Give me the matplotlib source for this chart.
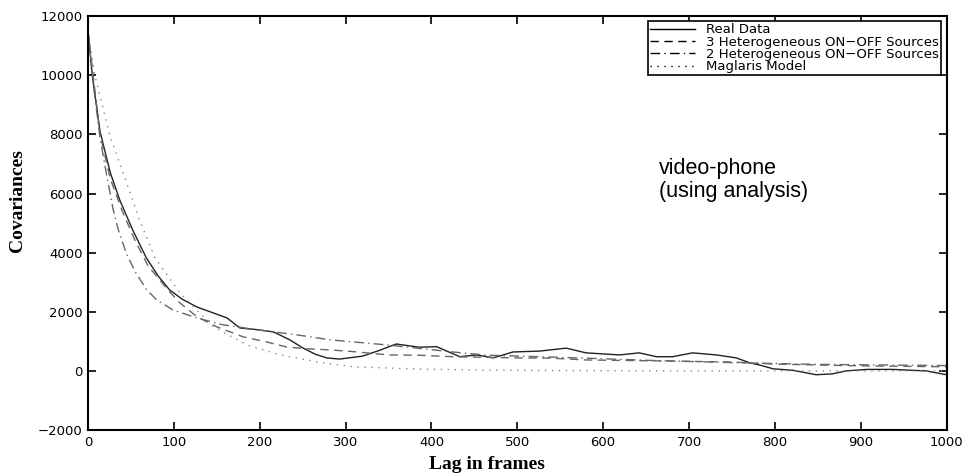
import matplotlib
matplotlib.use('Agg')
import matplotlib.pyplot as plt

# real data (solid)
real_lag = [0, 5, 14, 26, 37, 52, 68, 82, 95, 110, 127, 146, 162, 177, 195, 216, 235,
            250, 265, 278, 293, 320, 340, 359, 386, 406, 433, 453, 472, 495, 526, 557,
            580, 619, 642, 662, 681, 704, 732, 755, 771, 782, 798, 821, 848, 867, 883,
            907, 937, 976, 1000]
real_cov = [11500, 10000, 8100, 6700, 5780, 4770, 3820, 3200, 2740, 2420, 2160, 1960,
            1790, 1450, 1400, 1320, 1050, 780, 560, 440, 400, 500, 700, 910, 800, 820,
            480, 540, 440, 640, 670, 770, 610, 540, 610, 480, 480, 610, 540, 440, 270,
            200, 70, 20, -130, -100, 0, 50, 50, 0, -130]

# 3 heterogeneous ON-OFF sources (dashed)
het3_lag = [0, 14, 26, 40, 55, 70, 93, 107, 127, 150, 181, 208, 231, 254, 282, 310,
            350, 385, 425, 500, 540, 580, 660, 750, 800, 900, 1000]
het3_cov = [11500, 8000, 6500, 5400, 4400, 3550, 2740, 2300, 1830, 1490, 1150, 980,
            810, 750, 710, 650, 540, 530, 480, 440, 430, 370, 340, 300, 230, 170, 140]

# 2 heterogeneous ON-OFF sources (dash-dot)
het2_lag = [0, 7, 14, 20, 29, 35, 45, 55, 68, 80, 99, 127, 157, 200, 243, 282, 348,
            425, 465, 503, 580, 660, 750, 850, 1000]
het2_cov = [11500, 9500, 7900, 6900, 5500, 4800, 3950, 3350, 2760, 2400, 2060, 1790,
            1560, 1380, 1220, 1050, 880, 640, 530, 500, 430, 350, 280, 220, 180]

# Maglaris model (dotted)
mag_lag = [0, 8, 26, 41, 60, 78, 107, 146, 185, 224, 270, 309, 386, 450, 550, 700, 1000]
mag_cov = [11500, 10000, 7900, 6700, 5100, 3820, 2640, 1490, 880, 540, 290, 140, 60,
           30, 10, 0, 0]

fig = plt.figure(figsize=(9.68, 4.76), dpi=100)
ax = fig.add_axes([0.0909, 0.0966, 0.887, 0.8695])

ax.plot(real_lag, real_cov, color='#222222', lw=1.0, label='Real Data')
ax.plot(het3_lag, het3_cov, color='#666666', lw=1.0, dashes=(6, 4),
        label='3 Heterogeneous ON\u2212OFF Sources')
ax.plot(het2_lag, het2_cov, color='#666666', lw=1.0, dashes=(7, 3, 1, 3),
        label='2 Heterogeneous ON\u2212OFF Sources')
ax.plot(mag_lag, mag_cov, color='#888888', lw=1.0, dashes=(1, 4),
        label='Maglaris Model')

ax.set_xlim(0, 1000)
ax.set_ylim(-2000, 12000)
ax.set_xticks(range(0, 1001, 100))
ax.set_yticks(range(-2000, 12001, 2000))
ax.tick_params(direction='in', length=6, width=1.2, top=True, right=True,
               labelsize=9.5, pad=4)
for lab in ax.get_xticklabels() + ax.get_yticklabels():
    lab.set_family('DejaVu Sans')
for sp in ax.spines.values():
    sp.set_linewidth(1.5)

ax.set_xlabel('Lag in frames', family='Liberation Serif', fontweight='bold', fontsize=14)
ax.set_ylabel('Covariances', family='Liberation Serif', fontweight='bold', fontsize=14)
ax.xaxis.set_label_coords(0.465, -0.062)
ax.yaxis.set_label_coords(-0.072, 0.555)

ax.text(0.665, 0.658, 'video-phone\n(using analysis)', transform=ax.transAxes,
        family='Liberation Sans', fontsize=15.5, va='top', ha='left', linespacing=1.15)

leg = ax.legend(loc='upper right', fontsize=9.5, frameon=True, fancybox=False,
                edgecolor='black', framealpha=1, borderaxespad=0.4, handlelength=3.4,
                labelspacing=-0.05, borderpad=0.15, handletextpad=0.9)
leg.get_frame().set_linewidth(1.2)
for h in leg.legend_handles:
    h.set_color('black')
for t in leg.get_texts():
    t.set_family('DejaVu Sans')

fig.savefig('out.png', dpi=100)
